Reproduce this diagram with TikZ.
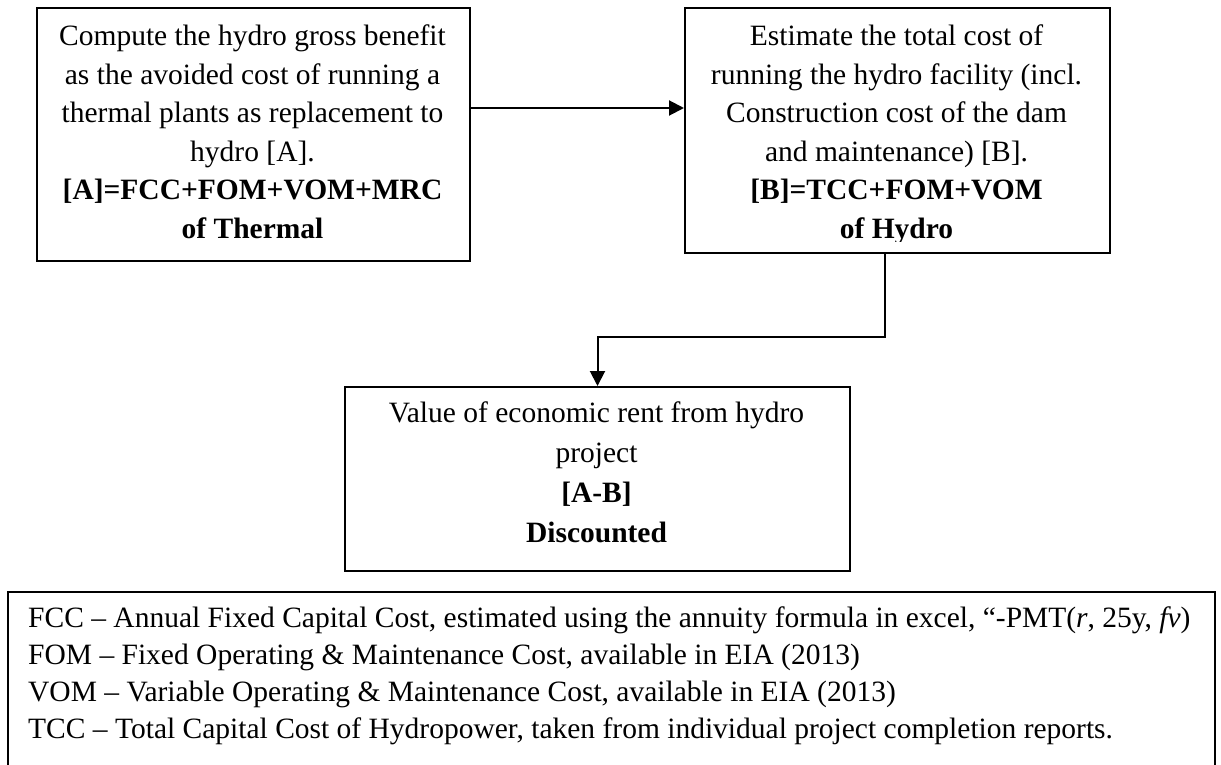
\documentclass[tikz,border=0pt]{standalone}
\usepackage{fontspec}
\setmainfont{Liberation Serif}
\usetikzlibrary{arrows.meta}
\begin{document}
\begin{tikzpicture}[x=1pt,y=-1pt,
  boxstyle/.style={draw=black,line width=2pt,inner sep=0pt,anchor=north west},
  txt/.style={inner sep=0pt,anchor=base,font=\fontsize{29.5}{35}\selectfont},
  ltxt/.style={inner sep=0pt,anchor=base west,font=\fontsize{29.5}{35}\selectfont},
  arr/.style={line width=2pt,-{Triangle[length=15pt,width=15pt]}}]
\useasboundingbox (0,0) rectangle (1221,765);
% boxes
\node[boxstyle,minimum width=433pt,minimum height=253pt] (A) at (36,7) {};
\node[boxstyle,minimum width=425pt,minimum height=245pt] (B) at (684,7) {};
\node[boxstyle,minimum width=505pt,minimum height=184pt] (C) at (344,386) {};
\node[boxstyle,minimum width=1207pt,minimum height=220pt] (D) at (7,591) {};
% text of A
\foreach \t [count=\i] in {Compute the hydro gross benefit,as the avoided cost of running a,thermal plants as replacement to,{hydro [A].},{\bfseries [A]=FCC+FOM+VOM+MRC},{\bfseries of Thermal}}
  \node[txt] (a\i) at (252.5,46+38.5*\i-38.5) {\t};
% text of B (clipped like the original)
\begin{scope}
\clip (684,7) rectangle (1109,241);
\foreach \t [count=\i] in {Estimate the total cost of,{running the hydro facility (incl.},Construction cost of the dam,{and maintenance) [B].},{\bfseries [B]=TCC+FOM+VOM},{\bfseries of Hydro}}
  \node[txt] (b\i) at (896.5,46+38.5*\i-38.5) {\t};
\end{scope}
% text of C
\foreach \t [count=\i] in {Value of economic rent from hydro,project,{\bfseries [A-B]},{\bfseries Discounted}}
  \node[txt] (c\i) at (596.5,422+40*\i-40) {\t};
% legend
\node[ltxt] (d1) at (28,627) {FCC – Annual Fixed Capital Cost, estimated using the annuity formula in excel, “-PMT(\textit{r}, 25y, \textit{fv})};
\node[ltxt] (d2) at (28,664) {FOM – Fixed Operating \& Maintenance Cost, available in EIA (2013)};
\node[ltxt] (d3) at (28,701) {VOM – Variable Operating \& Maintenance Cost, available in EIA (2013)};
\node[ltxt] (d4) at (28,738) {TCC – Total Capital Cost of Hydropower, taken from individual project completion reports.};
% connectors
\coordinate (ay) at (0,108);
\draw[arr] (A.east |- ay) -- (B.west |- ay);
\coordinate (k1) at (885,337);
\draw[arr] (B.south -| k1) -- (k1) -| (C.north);
\end{tikzpicture}
\end{document}
